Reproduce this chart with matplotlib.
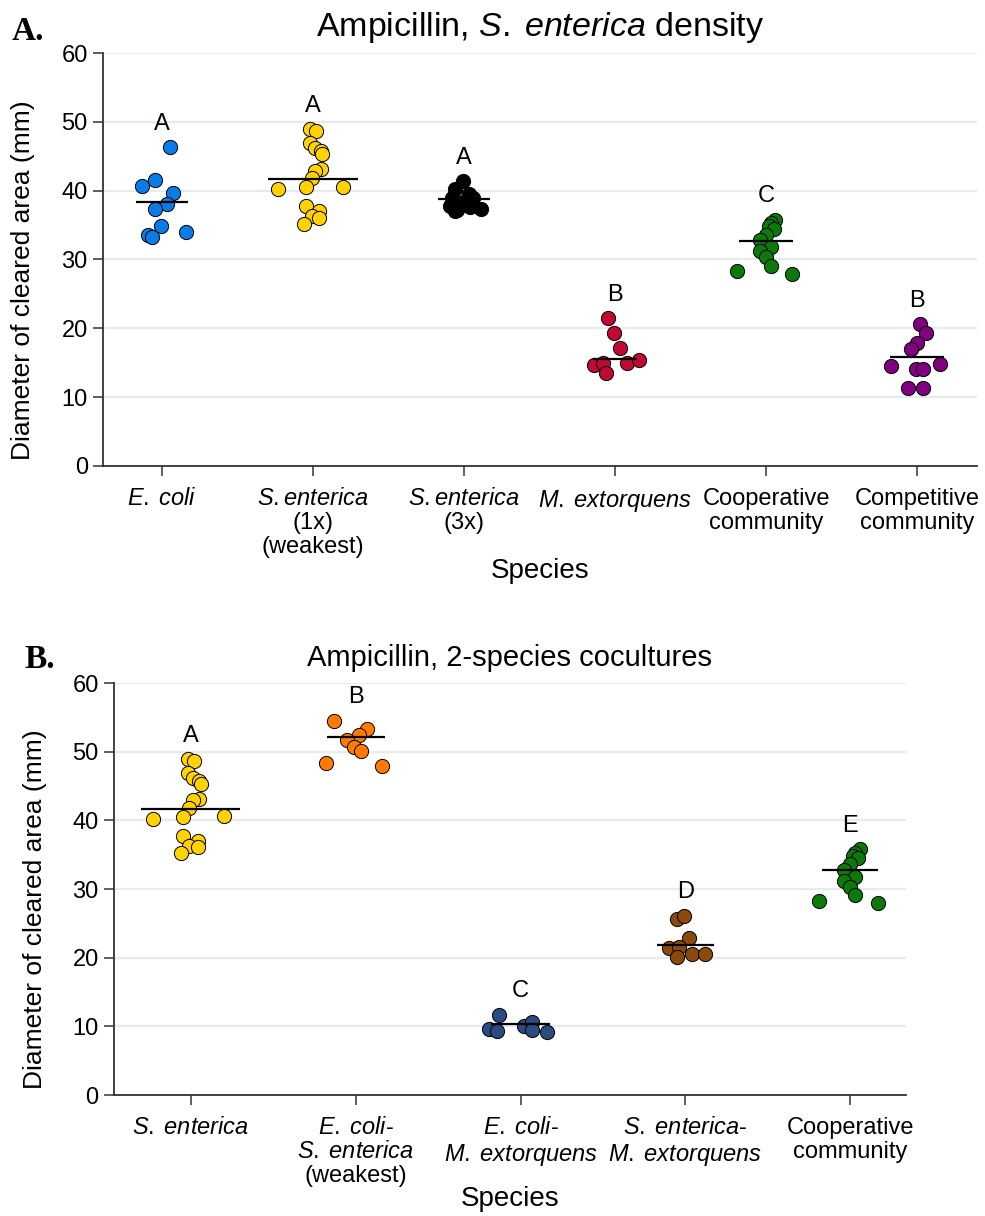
import matplotlib
matplotlib.use("Agg")
import matplotlib.pyplot as plt

plt.rcParams["font.family"] = ["Liberation Sans", "DejaVu Sans"]
plt.rcParams["mathtext.fontset"] = "custom"
plt.rcParams["mathtext.rm"] = "Liberation Sans"
plt.rcParams["mathtext.it"] = "Liberation Sans:italic"

# ---- panel A: Ampicillin, S. enterica density ----
A_LABELS = [r"$\mathit{E.\;coli}$",
            "$\\mathit{S.enterica}$\n(1x)\n(weakest)",
            "$\\mathit{S.enterica}$\n(3x)",
            r"$\mathit{M.\;extorquens}$",
            "Cooperative\ncommunity",
            "Competitive\ncommunity"]
A_ECOLI = [46.3, 40.7, 41.6, 39.6, 38.1, 37.3, 34.8, 33.6, 33.3, 34.0]
A_ECOLI_JIT = [0.05, -0.13, -0.05, 0.07, 0.03, -0.05, -0.01, -0.09, -0.07, 0.16]
SENT = [48.9, 48.6, 46.9, 46.2, 45.7, 45.3, 43.1, 42.9, 41.8, 40.2, 40.5, 40.6,
        37.7, 37.0, 36.3, 36.1, 35.2]
SENT_JIT = [-0.02, 0.02, -0.02, 0.01, 0.05, 0.06, 0.05, 0.01, -0.01, -0.23, -0.05,
            0.20, -0.05, 0.04, -0.01, 0.04, -0.06]
SENT3 = [41.4, 40.3, 39.5, 38.9, 38.4, 37.8, 37.0, 37.6, 37.4, 37.2, 39.0]
SENT3_JIT = [-0.01, -0.06, 0.03, -0.08, -0.01, -0.09, -0.06, 0.04, 0.11, -0.05, 0.06]
MEXT = [21.5, 19.3, 17.2, 14.7, 14.9, 13.5, 14.9, 15.4]
MEXT_JIT = [-0.05, -0.01, 0.03, -0.14, -0.08, -0.06, 0.08, 0.16]
COOP = [35.8, 35.3, 34.8, 34.5, 33.6, 32.8, 31.8, 31.2, 30.3, 29.1, 28.3, 27.9]
COOP_JIT = [0.06, 0.03, 0.02, 0.05, 0.0, -0.04, 0.03, -0.04, 0.0, 0.03, -0.19, 0.17]
COMP = [20.6, 19.3, 17.8, 17.0, 14.5, 14.1, 14.1, 14.8, 11.3, 11.3]
COMP_JIT = [0.02, 0.06, 0.0, -0.04, -0.17, -0.01, 0.04, 0.15, -0.06, 0.04]
A_MEANS = [38.3, 41.7, 38.8, 15.5, 32.7, 15.9]
A_LETTERS = ["A", "A", "A", "B", "C", "B"]

# ---- panel B: Ampicillin, 2-species cocultures ----
B_LABELS = [r"$\mathit{S.\;enterica}$",
            "$\\mathit{E.\\;coli}$-\n$\\mathit{S.\\;enterica}$\n(weakest)",
            "$\\mathit{E.\\;coli}$-\n$\\mathit{M.\\;extorquens}$",
            "$\\mathit{S.\\;enterica}$-\n$\\mathit{M.\\;extorquens}$",
            "Cooperative\ncommunity"]
ECSE = [54.5, 53.3, 52.4, 51.7, 50.7, 50.1, 48.4, 47.9]
ECSE_JIT = [-0.13, 0.07, 0.02, -0.05, -0.01, 0.03, -0.18, 0.16]
ECME = [11.7, 9.6, 9.3, 10.0, 10.6, 9.5, 9.2]
ECME_JIT = [-0.13, -0.19, -0.14, 0.02, 0.07, 0.07, 0.16]
SEME = [25.6, 26.1, 22.9, 21.4, 21.6, 20.1, 20.6, 20.5]
SEME_JIT = [-0.05, -0.01, 0.02, -0.10, -0.04, -0.05, 0.04, 0.12]
B_MEANS = [41.7, 52.1, 10.3, 21.8, 32.7]
B_LETTERS = ["A", "B", "C", "D", "E"]

BLUE, YELLOW, BLACK, RED = "#0A7CE6", "#FFD200", "#000000", "#C00A32"
GREEN, PURPLE, ORANGE, NAVY, BROWN = "#0B7A0B", "#800080", "#FF7B00", "#2B4A80", "#8B4A0B"


def draw_panel(ax, labels, groups, jitters, means, letters, colors, halfw, xlim,
               title, title_size):
    for i, (vals, jit) in enumerate(zip(groups, jitters)):
        ax.scatter([i + j for j in jit], vals, s=105, color=colors[i],
                   edgecolor="black", linewidth=0.7, zorder=3)
        ax.plot([i - halfw[i], i + halfw[i]], [means[i]] * 2, color="black",
                lw=1.6, zorder=4, solid_capstyle="butt")
        ax.text(i, max(vals) + 3.4, letters[i], ha="center", va="center", fontsize=17)
    ax.set_xlim(*xlim)
    ax.set_ylim(0, 60)
    ax.set_yticks(range(0, 61, 10))
    ax.set_xticks(range(len(labels)), labels)
    for t in ax.get_xticklabels():
        t.set_linespacing(1.12)
    ax.tick_params(axis="both", labelsize=17, length=7, width=1.1, color="#333333")
    ax.tick_params(axis="x", pad=9)
    ax.tick_params(axis="y", pad=4)
    ax.yaxis.grid(True, color="#E4ECF0", lw=1.6)
    ax.set_axisbelow(True)
    for side in ("top", "right"):
        ax.spines[side].set_visible(False)
    for side in ("left", "bottom"):
        ax.spines[side].set_color("#333333")
        ax.spines[side].set_linewidth(1.3)
    ax.set_title(title, fontsize=title_size, pad=12)
    ax.set_xlabel("Species", fontsize=20)
    ax.set_ylabel("Diameter of cleared area (mm)", fontsize=19)


fig = plt.figure(figsize=(9.85, 12.16), dpi=100)
axA = fig.add_axes([0.1046, 0.6168, 0.8873, 0.3396])
axB = fig.add_axes([0.1157, 0.0995, 0.8041, 0.3388])

draw_panel(axA, A_LABELS,
           [A_ECOLI, SENT, SENT3, MEXT, COOP, COMP],
           [A_ECOLI_JIT, SENT_JIT, SENT3_JIT, MEXT_JIT, COOP_JIT, COMP_JIT],
           A_MEANS, A_LETTERS, [BLUE, YELLOW, BLACK, RED, GREEN, PURPLE],
           [0.17, 0.30, 0.175, 0.145, 0.177, 0.177], (-0.391, 5.397),
           r"Ampicillin, $\mathit{S.\;enterica}$ density", 24.5)
draw_panel(axB, B_LABELS,
           [SENT, ECSE, ECME, SEME, COOP],
           [SENT_JIT, ECSE_JIT, ECME_JIT, SEME_JIT, COOP_JIT],
           B_MEANS, B_LETTERS, [YELLOW, ORANGE, NAVY, BROWN, GREEN],
           [0.30, 0.176, 0.18, 0.174, 0.17], (-0.467, 4.339),
           "Ampicillin, 2-species cocultures", 21)

axA.yaxis.set_label_coords(-0.078, 0.45)
axB.yaxis.set_label_coords(-0.085, 0.45)
axA.xaxis.set_label_coords(0.5, -0.222)
axB.xaxis.set_label_coords(0.5, -0.22)

fig.text(0.012, 0.967, "A.", family="Liberation Serif", weight="bold", fontsize=24)
fig.text(0.025, 0.451, "B.", family="Liberation Serif", weight="bold", fontsize=24)

fig.savefig("out.png", dpi=100)
